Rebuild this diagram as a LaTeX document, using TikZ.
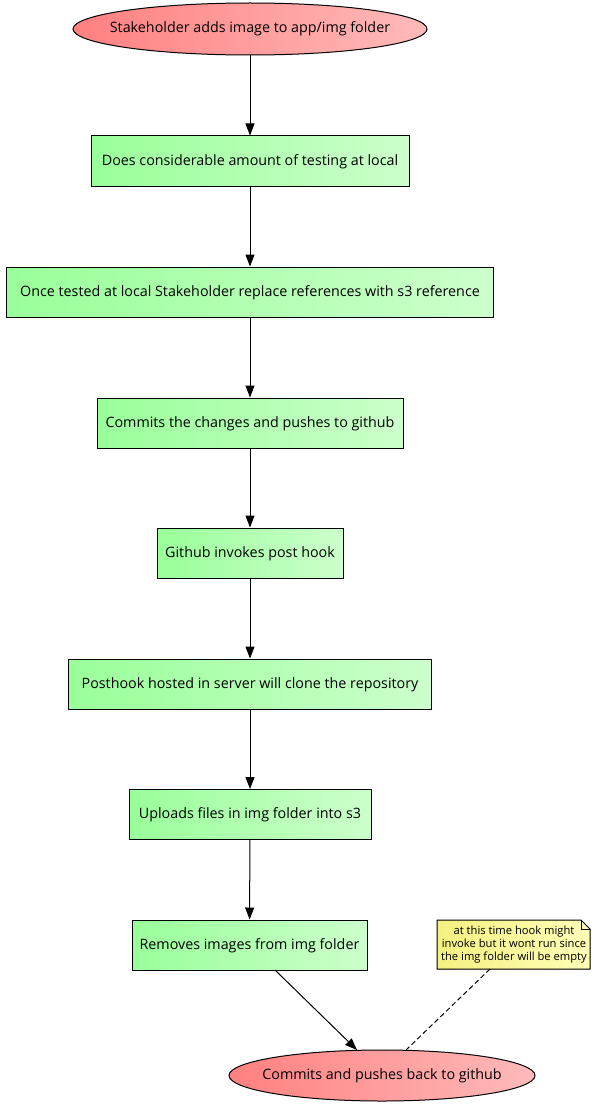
\documentclass[tikz,border=0pt]{standalone}
\usepackage{fontspec}
\setmainfont{Open Sans}
\usetikzlibrary{shapes.geometric,arrows.meta,positioning}
\definecolor{redL}{HTML}{FF8080}
\definecolor{redR}{HTML}{FFBABA}
\definecolor{grnL}{HTML}{99FF99}
\definecolor{grnR}{HTML}{CCFFCC}
\definecolor{ylwL}{HTML}{F4F080}
\definecolor{ylwR}{HTML}{FFFFB8}
\tikzset{
  stepbox/.style={draw=black, line width=1pt, left color=grnL, right color=grnR, minimum height=50pt, inner sep=0pt, text height=10.5pt, text depth=2.5pt, font=\fontsize{14.3pt}{16pt}\selectfont},
  termell/.style={draw=black, line width=1pt, ellipse, left color=redL, right color=redR, inner sep=0pt, text height=10.5pt, text depth=2.5pt, font=\fontsize{14.3pt}{16pt}\selectfont},
  conn/.style={draw=black, line width=1pt, -{Triangle[length=12pt,width=9pt]}},
  notebox/.style={font=\fontsize{11.2pt}{13.2pt}\selectfont, align=center, inner sep=0pt}
}
\begin{document}
\begin{tikzpicture}[x=1pt,y=-1pt]
\useasboundingbox (0,0) rectangle (603,1113);
\node[termell, minimum width=354pt, minimum height=52pt] (start) at (250,29) {\makebox[0pt]{Stakeholder adds image to app/img folder}};
\node[stepbox, minimum width=318pt] (b1) at (250,161) {Does considerable amount of testing at local};
\node[stepbox, minimum width=487pt] (b2) at (250,292) {Once tested at local Stakeholder replace references with s3 reference};
\node[stepbox, minimum width=306pt] (b3) at (250,423) {Commits the changes and pushes to github};
\node[stepbox, minimum width=186pt] (b4) at (250,553) {Github invokes post hook};
\node[stepbox, minimum width=363pt] (b5) at (250,684) {Posthook hosted in server will clone the repository};
\node[stepbox, minimum width=242pt] (b6) at (250,814.5) {Uploads files in img folder into s3};
\node[stepbox, minimum width=235pt] (b7) at (249.5,945) {Removes images from img folder};
\node[termell, minimum width=306pt, minimum height=51pt] (end) at (382,1075.5) {\makebox[0pt]{Commits and pushes back to github}};
% note
\fill[left color=ylwL, right color=ylwR] (437,920) -- (581,920) -- (590,929) -- (590,969) -- (437,969) -- cycle;
\draw[line width=1pt] (437,920) -- (581,920) -- (590,929) -- (590,969) -- (437,969) -- cycle;
\draw[line width=0.7pt] (581,920) -- (581,929) -- (590,929);
\node[notebox] (note) at (514,944.5) {at this time hook might\\invoke but it wont run since\\the img folder will be empty};
\coordinate (noteB) at (490,969);
\coordinate (endL) at (357,1050);
\coordinate (endR) at (406,1050);
\coordinate (b7B) at (275,970);
\draw[conn] (start) -- (b1);
\draw[conn] (b1) -- (b2);
\draw[conn] (b2) -- (b3);
\draw[conn] (b3) -- (b4);
\draw[conn] (b4) -- (b5);
\draw[conn] (b5) -- (b6);
\draw[conn] (b6) -- (b7);
\draw[conn] (b7B) -- (endL);
\draw[line width=1pt, dash pattern=on 5pt off 3pt] (noteB) -- (endR);
\end{tikzpicture}
\end{document}
